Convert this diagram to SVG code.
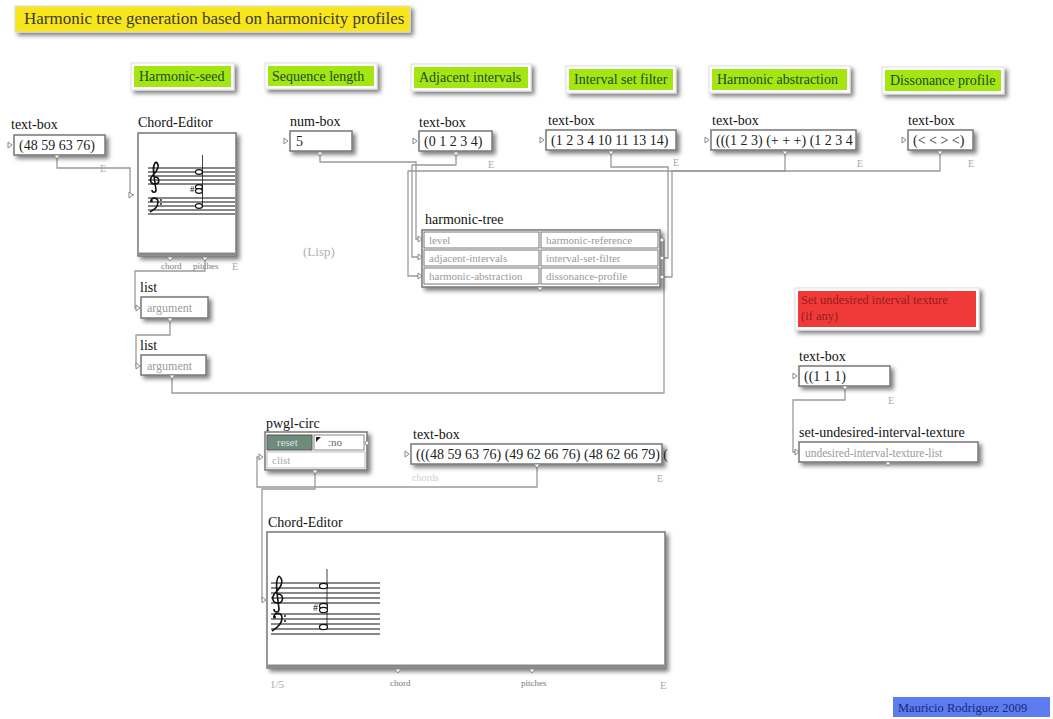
<svg xmlns="http://www.w3.org/2000/svg" width="1053" height="719" viewBox="0 0 1053 719">
<defs>
<filter id="sh" x="-10%" y="-20%" width="130%" height="170%">
<feDropShadow dx="3" dy="3" stdDeviation="2" flood-color="#000" flood-opacity="0.5"/>
</filter>
<style>
text{font-family:"Liberation Serif","Times New Roman",serif}
.lbl{font-size:14px;fill:#111}
.val{font-size:14px;fill:#222}
.note{font-size:14px;fill:#1f4a2a}
.port{font-size:9px;fill:#777}
.e{font-size:10px;fill:#aaa}
.inp{font-size:11px;fill:#9a9a9a}
.box{fill:#fff;stroke:#777;stroke-width:1.5;filter:url(#sh)}
.cell{fill:#fff;stroke:#777;stroke-width:1}
.wrap{fill:#fff;stroke:#ddd;stroke-width:1;filter:url(#sh)}
.green{fill:#a4e612}
.con{fill:none;stroke:#9a9a9a;stroke-width:1.3}
.pin{fill:#fff;stroke:#888;stroke-width:1}
.staff{stroke:#111;stroke-width:1}
.clef{fill:none;stroke:#111;stroke-width:1.6}
.nh{fill:#fff;stroke:#111;stroke-width:1.2}
</style>
</defs>
<rect width="1053" height="719" fill="#fff"/>

<g id="title">
<rect x="15" y="6" width="395" height="26" fill="#f7e61a" stroke="#ddd" filter="url(#sh)"/>
<text x="24" y="24" style="font-size:17px;fill:#3c3a28">Harmonic tree generation based on harmonicity profiles</text>
</g>

<g id="note-harmonic-seed">
<rect class="wrap" x="131" y="63" width="103" height="27"/><rect class="green" x="134" y="66" width="97" height="21"/>
<text class="note" x="139" y="81">Harmonic-seed</text>
</g>
<g id="note-sequence-length">
<rect class="wrap" x="265" y="63" width="112" height="26"/><rect class="green" x="268" y="66" width="106" height="20"/>
<text class="note" x="272" y="81">Sequence length</text>
</g>
<g id="note-adjacent-intervals">
<rect class="wrap" x="411" y="64" width="120" height="27"/><rect class="green" x="414" y="67" width="114" height="21"/>
<text class="note" x="419" y="82">Adjacent intervals</text>
</g>
<g id="note-interval-set-filter">
<rect class="wrap" x="566" y="66" width="110" height="27"/><rect class="green" x="569" y="69" width="104" height="21"/>
<text class="note" x="574" y="84">Interval set filter</text>
</g>
<g id="note-harmonic-abstraction">
<rect class="wrap" x="709" y="66" width="141" height="27"/><rect class="green" x="712" y="69" width="135" height="21"/>
<text class="note" x="717" y="84">Harmonic abstraction</text>
</g>
<g id="note-dissonance-profile">
<rect class="wrap" x="882" y="67" width="122" height="27"/><rect class="green" x="885" y="70" width="116" height="21"/>
<text class="note" x="890" y="85">Dissonance profile</text>
</g>

<g id="connectors">
<polyline class="con" points="57,157 57,168 130,168 130,195 134,195"/>
<polyline class="con" points="205,260 205,271 135,271 135,308 138,308"/>
<polyline class="con" points="170,322 170,335 136,335 136,366 138,366"/>
<polyline class="con" points="172,378 172,393 664,393 664,240 661,240"/>
<polyline class="con" points="320,155 320,162 416,162 416,239 419,239"/>
<polyline class="con" points="456,156 456,165 412,165 412,257 419,257"/>
<polyline class="con" points="785,154 785,171 408,171 408,276 419,276"/>
<polyline class="con" points="940,154 940,171 672,171 672,277 663,277"/>
<polyline class="con" points="611,154 611,167 668,167 668,258 663,258"/>
<polyline class="con" points="537,467 537,487 257,487 257,457 260,457"/>
<polyline class="con" points="315,473 315,489 262,489 262,600 265,600"/>
<polyline class="con" points="845,389 845,400 793,400 793,452 796,452"/>
</g>

<g id="textbox-seed">
<text class="lbl" x="11" y="129">text-box</text>
<rect class="box" x="14" y="135" width="91" height="20"/>
<text class="val" x="19" y="150">(48 59 63 76)</text>
<polygon class="pin" points="8,142 12,145 8,148"/>
<polygon class="pin" points="54,155 60,155 57,159"/>
<text class="e" x="100" y="172">E</text>
</g>

<g id="chord-editor-top">
<text class="lbl" x="138" y="127">Chord-Editor</text>
<rect class="box" x="138" y="133" width="98" height="123"/>
<line x1="139" y1="254" x2="235" y2="254" stroke="#888" stroke-width="3"/>
<g class="staff">
<line x1="148" y1="168" x2="235" y2="168"/><line x1="148" y1="172" x2="235" y2="172"/><line x1="148" y1="176" x2="235" y2="176"/><line x1="148" y1="180" x2="235" y2="180"/><line x1="148" y1="184" x2="235" y2="184"/>
<line x1="148" y1="198" x2="235" y2="198"/><line x1="148" y1="202" x2="235" y2="202"/><line x1="148" y1="206" x2="235" y2="206"/><line x1="148" y1="210" x2="235" y2="210"/><line x1="148" y1="214" x2="235" y2="214"/>
</g>
<path class="clef" d="M156,162 C160,165 158,170 153,175 C149,179 150,184 155,184 C160,184 160,177 155,177 M156,162 C153,164 153,168 154,176 L156,190 C156,193 152,193 152,190"/>
<path class="clef" d="M151,201 C151,197 158,197 158,202 C158,207 154,210 150,212"/>
<circle cx="151.5" cy="201" r="1.3" fill="#111"/><circle cx="161" cy="200" r="0.9" fill="#111"/><circle cx="161" cy="204" r="0.9" fill="#111"/>
<line x1="202.5" y1="155" x2="202.5" y2="207" stroke="#111" stroke-width="0.8"/>
<ellipse class="nh" cx="199" cy="172" rx="3.5" ry="2.3"/>
<ellipse class="nh" cx="199" cy="187" rx="3.5" ry="2.3"/>
<ellipse class="nh" cx="199" cy="191" rx="3.5" ry="2.3"/>
<ellipse class="nh" cx="199" cy="206" rx="3.5" ry="2.3"/>
<text x="190" y="192" style="font-size:9px;fill:#111">#</text>
<polygon class="pin" points="129,192 133,195 129,198"/>
<polygon class="pin" points="167,257 173,257 170,261"/>
<polygon class="pin" points="202,257 208,257 205,261"/>
<text class="port" x="161" y="269">chord</text>
<text class="port" x="193" y="269">pitches</text>
<text class="e" x="232" y="270">E</text>
</g>

<g id="numbox">
<text class="lbl" x="290" y="126">num-box</text>
<rect class="box" x="290" y="131" width="62" height="20"/>
<text class="val" x="296" y="146">5</text>
<polygon class="pin" points="284,138 288,141 284,144"/>
<polygon class="pin" points="317,152 323,152 320,156"/>
</g>

<g id="lisp">
<text x="303" y="256" style="font-size:13px;fill:#b0b0b0">(Lisp)</text>
</g>

<g id="textbox-adjacent">
<text class="lbl" x="419" y="127">text-box</text>
<rect class="box" x="419" y="131" width="73" height="20"/>
<text class="val" x="424" y="146">(0 1 2 3 4)</text>
<polygon class="pin" points="413,138 417,141 413,144"/>
<polygon class="pin" points="453,152 459,152 456,156"/>
<text class="e" x="488" y="168">E</text>
</g>

<g id="textbox-filter">
<text class="lbl" x="548" y="125">text-box</text>
<rect class="box" x="546" y="130" width="130" height="20"/>
<text class="val" x="551" y="145">(1 2 3 4 10 11 13 14)</text>
<polygon class="pin" points="540,137 544,140 540,143"/>
<polygon class="pin" points="608,151 614,151 611,155"/>
<text class="e" x="673" y="166">E</text>
</g>

<g id="textbox-abstraction">
<text class="lbl" x="712" y="125">text-box</text>
<rect class="box" x="711" y="130" width="145" height="20"/>
<text class="val" x="716" y="145">(((1 2 3) (+ + +) (1 2 3 4</text>
<polygon class="pin" points="705,137 709,140 705,143"/>
<polygon class="pin" points="782,151 788,151 785,155"/>
<text class="e" x="857" y="167">E</text>
</g>

<g id="textbox-dissonance">
<text class="lbl" x="908" y="125">text-box</text>
<rect class="box" x="908" y="130" width="65" height="20"/>
<text class="val" x="913" y="145">(&lt; &lt; &gt; &lt;)</text>
<polygon class="pin" points="902,137 906,140 902,143"/>
<polygon class="pin" points="937,151 943,151 940,155"/>
<text class="e" x="968" y="167">E</text>
</g>

<g id="harmonic-tree">
<text class="lbl" x="425" y="224">harmonic-tree</text>
<rect class="box" x="422" y="230" width="238" height="57"/>
<rect class="cell" x="424" y="232" width="115" height="16"/><rect class="cell" x="541" y="232" width="117" height="16"/>
<rect class="cell" x="424" y="250" width="115" height="16"/><rect class="cell" x="541" y="250" width="117" height="16"/>
<rect class="cell" x="424" y="268" width="115" height="16"/><rect class="cell" x="541" y="268" width="117" height="16"/>
<text class="inp" x="429" y="244">level</text>
<text class="inp" x="546" y="244">harmonic-reference</text>
<text class="inp" x="429" y="262">adjacent-intervals</text>
<text class="inp" x="546" y="262">interval-set-filter</text>
<text class="inp" x="429" y="280">harmonic-abstraction</text>
<text class="inp" x="546" y="280">dissonance-profile</text>
<polygon class="pin" points="418,236 422,239 418,242"/>
<polygon class="pin" points="418,254 422,257 418,260"/>
<polygon class="pin" points="418,273 422,276 418,279"/>
<circle class="pin" cx="662" cy="240" r="2"/>
<circle class="pin" cx="662" cy="258" r="2"/>
<circle class="pin" cx="662" cy="277" r="2"/>
<polygon class="pin" points="537,287 543,287 540,291"/>
</g>

<g id="list1">
<text class="lbl" x="140" y="292">list</text>
<rect class="box" x="141" y="297" width="67" height="21"/>
<text x="147" y="312" style="font-size:12px;fill:#9a9a9a">argument</text>
<polygon class="pin" points="136,305 140,308 136,311"/>
<polygon class="pin" points="167,318 173,318 170,322"/>
</g>

<g id="list2">
<text class="lbl" x="140" y="350">list</text>
<rect class="box" x="141" y="355" width="65" height="20"/>
<text x="147" y="370" style="font-size:12px;fill:#9a9a9a">argument</text>
<polygon class="pin" points="136,363 140,366 136,369"/>
<polygon class="pin" points="169,375 175,375 172,379"/>
</g>

<g id="note-undesired">
<rect class="wrap" x="795" y="288" width="184" height="42"/>
<rect x="798" y="291" width="178" height="36" fill="#f03a3a"/>
<text x="801" y="304" style="font-size:12.5px;fill:#9a1a1a">Set undesired interval texture</text>
<text x="801" y="320" style="font-size:12.5px;fill:#9a1a1a">(if any)</text>
</g>

<g id="textbox-undesired">
<text class="lbl" x="799" y="361">text-box</text>
<rect class="box" x="799" y="366" width="91" height="20"/>
<text class="val" x="804" y="381">((1 1 1)</text>
<polygon class="pin" points="793,373 797,376 793,379"/>
<polygon class="pin" points="842,386 848,386 845,390"/>
<text class="e" x="888" y="404">E</text>
</g>

<g id="set-undesired-interval-texture">
<text class="lbl" x="799" y="437">set-undesired-interval-texture</text>
<rect class="box" x="799" y="442" width="179" height="20"/>
<text x="805" y="457" style="font-size:11.5px;fill:#9a9a9a">undesired-interval-texture-list</text>
<polygon class="pin" points="795,449 799,452 795,455"/>
<polygon class="pin" points="885,462 891,462 888,466"/>
</g>

<g id="pwgl-circ">
<text class="lbl" x="266" y="428">pwgl-circ</text>
<rect class="box" x="265" y="432" width="102" height="38"/>
<rect x="267" y="435" width="45" height="15" fill="#6f8b7c" stroke="#555"/>
<text x="277" y="446" style="font-size:11px;fill:#dde">reset</text>
<rect x="314" y="435" width="50" height="15" fill="#fff" stroke="#888"/>
<polygon points="316,437 321,437 316,442" fill="#222"/>
<text x="328" y="446" style="font-size:11px;fill:#666">:no</text>
<rect x="267" y="452" width="98" height="16" fill="#fff" stroke="#bbb"/>
<text x="272" y="464" style="font-size:11px;fill:#aaa">clist</text>
<circle class="pin" cx="367" cy="443" r="2"/>
<polygon class="pin" points="259,454 263,457 259,460"/>
<polygon class="pin" points="312,470 318,470 315,474"/>
</g>

<g id="textbox-chords">
<text class="lbl" x="413" y="439">text-box</text>
<text x="412" y="481" style="font-size:10px;fill:#cfcfcf">chords</text>
<rect class="box" x="411" y="444" width="251" height="20"/>
<text class="val" x="416" y="459">(((48 59 63 76) (49 62 66 76) (48 62 66 79) (</text>
<polygon class="pin" points="405,451 409,454 405,457"/>
<polygon class="pin" points="534,464 540,464 537,468"/>
<text class="e" x="657" y="482">E</text>
</g>

<g id="chord-editor-bottom">
<text class="lbl" x="268" y="527">Chord-Editor</text>
<rect class="box" x="267" y="532" width="398" height="136"/>
<line x1="268" y1="666" x2="664" y2="666" stroke="#888" stroke-width="3"/>
<g class="staff">
<line x1="271" y1="583" x2="380" y2="583"/><line x1="271" y1="588" x2="380" y2="588"/><line x1="271" y1="593" x2="380" y2="593"/><line x1="271" y1="598" x2="380" y2="598"/><line x1="271" y1="603" x2="380" y2="603"/>
<line x1="271" y1="614" x2="380" y2="614"/><line x1="271" y1="619" x2="380" y2="619"/><line x1="271" y1="624" x2="380" y2="624"/><line x1="271" y1="629" x2="380" y2="629"/><line x1="271" y1="634" x2="380" y2="634"/>
</g>
<path class="clef" d="M279,576 C284,580 282,586 276,592 C271,597 272,603 278,603 C284,603 284,594 278,594 M279,576 C276,579 276,584 277,593 L279,609 C279,613 274,613 274,609"/>
<path class="clef" d="M274,617 C274,612 282,612 282,618 C282,624 277,628 272,631"/>
<circle cx="274.5" cy="617" r="1.5" fill="#111"/><circle cx="285" cy="616" r="1" fill="#111"/><circle cx="285" cy="621" r="1" fill="#111"/>
<line x1="327" y1="569" x2="327" y2="628" stroke="#111" stroke-width="0.8"/>
<ellipse class="nh" cx="323.5" cy="586" rx="4" ry="2.6"/>
<ellipse class="nh" cx="323.5" cy="606" rx="4" ry="2.6"/>
<ellipse class="nh" cx="323.5" cy="610" rx="4" ry="2.6"/>
<ellipse class="nh" cx="323.5" cy="627" rx="4" ry="2.6"/>
<text x="313" y="611" style="font-size:10px;fill:#111">#</text>
<polygon class="pin" points="262,597 266,600 262,603"/>
<polygon class="pin" points="395,669 401,669 398,673"/>
<polygon class="pin" points="529,669 535,669 532,673"/>
<text x="270" y="688" style="font-size:11px;fill:#aaa">1/5</text>
<text class="port" x="390" y="686">chord</text>
<text class="port" x="521" y="686">pitches</text>
<text class="e" x="660" y="689" style="font-size:11px">E</text>
</g>

<g id="signature">
<rect x="893" y="697" width="157" height="20" fill="#5c7cf0"/>
<text x="898" y="712" style="font-size:12.5px;fill:#1a2a7a">Mauricio Rodriguez 2009</text>
</g>
</svg>
